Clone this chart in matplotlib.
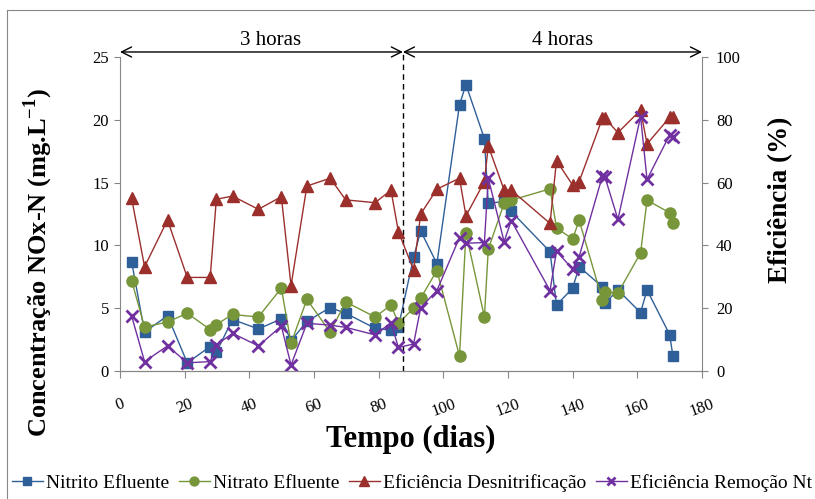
import matplotlib
matplotlib.use('Agg')
from matplotlib import pyplot as plt
from matplotlib.lines import Line2D

plt.rcParams['font.family'] = ['Liberation Serif', 'DejaVu Serif']
plt.rcParams['mathtext.fontset'] = 'custom'
plt.rcParams['mathtext.rm'] = 'Liberation Serif'
plt.rcParams['mathtext.bf'] = 'Liberation Serif:bold'

# dias de operação (3 horas até ~87 d, depois 4 horas)
dias = [3.6, 7.6, 14.7, 20.8, 27.9, 29.8, 34.8, 42.8, 49.9, 52.9, 57.8, 65, 69.8, 78.9, 83.8, 86.1,
        90.8, 93, 98, 105, 107, 112.7, 113.9, 118.8, 121, 133, 135, 140, 142, 149.2, 150, 154,
        161, 163, 170, 171]

# concentrações (mg/L)
nitrito = [8.7, 3.1, 4.4, 0.65, 1.95, 1.5, 4.1, 3.35, 4.15, 2.4, 3.95, 5.05, 4.6, 3.4, 3.25, 3.5,
           9.05, 11.15, 8.55, 21.2, 22.8, 18.5, 13.35, 13.5, 12.7, 9.5, 5.25, 6.6, 8.3, 6.7, 5.4, 6.45,
           4.65, 6.45, 2.9, 1.2]
nitrato = [7.2, 3.5, 3.9, 4.6, 3.3, 3.7, 4.5, 4.3, 6.6, 2.2, 5.7, 3.1, 5.5, 4.3, 5.25, 3.8,
           5.0, 5.8, 8.0, 1.2, 11.0, 4.3, 9.7, 13.35, 13.6, 14.5, 11.4, 10.5, 12.0, 5.65, 6.3, 6.2,
           9.4, 13.6, 12.6, 11.8]

# eficiências (%)
ef_desn = [55.0, 33.2, 48.1, 29.8, 29.8, 54.7, 55.7, 51.5, 55.5, 27.2, 58.9, 61.4, 54.5, 53.6, 57.6, 44.4,
           32.2, 50.0, 57.9, 61.4, 49.4, 60.3, 71.7, 57.6, 57.6, 47.0, 67.0, 59.2, 60.3, 80.5, 80.5, 75.9,
           83.1, 72.3, 80.8, 80.8]
ef_rem = [17.5, 3.0, 8.0, 2.6, 3.0, 8.3, 12.0, 8.0, 14.3, 1.9, 15.2, 14.6, 13.9, 11.5, 15.4, 7.5,
          8.6, 20.2, 25.6, 42.5, 40.7, 40.9, 61.4, 41.2, 47.9, 25.6, 38.2, 32.4, 36.4, 62.1, 61.7, 48.3,
          81.0, 61.0, 75.2, 74.4]

troca = 87.5  # mudança de TDH

cinza = '#878787'

fig = plt.figure(figsize=(8.15, 4.99), dpi=100)
# moldura da área do gráfico (só esquerda e topo aparecem)
fx, fy = 7 / 815, 1 - 10 / 499
fig.add_artist(Line2D([fx, fx], [0, fy], transform=fig.transFigure, color=cinza, lw=0.8))
fig.add_artist(Line2D([fx, 1], [fy, fy], transform=fig.transFigure, color=cinza, lw=0.8))

ax = fig.add_axes([120 / 815, 1 - 371 / 499, 582 / 815, 314 / 499])
ax2 = ax.twinx()

l1, = ax.plot(dias, nitrito, color='#2F5F98', lw=1, marker='s', ms=7, label='Nitrito Efluente')
l2, = ax.plot(dias, nitrato, color='#77963A', lw=1, marker='o', ms=8, label='Nitrato Efluente')
l3, = ax2.plot(dias, ef_desn, color='#9B2F2C', lw=1, marker='^', ms=8.5, label='Eficiência Desnitrificação')
l4, = ax2.plot(dias, ef_rem, color='#7030A0', lw=1, marker='x', ms=8, mew=2, label='Eficiência Remoção Nt')

ax.set_xlim(0, 180)
ax.set_ylim(0, 25)
ax2.set_ylim(0, 100)
ax.set_xticks(range(0, 181, 20))
ax.set_yticks(range(0, 26, 5))
ax2.set_yticks(range(0, 101, 20))

for a in (ax, ax2):
    a.spines['top'].set_visible(False)
    for s in ('left', 'right', 'bottom'):
        a.spines[s].set_color(cinza)
ax2.spines['left'].set_visible(False)
ax.spines['right'].set_visible(False)

ax.tick_params(axis='y', colors=cinza, labelcolor='black', labelsize=12, length=4, pad=4)
ax.tick_params(axis='x', colors=cinza, labelcolor='black', labelsize=12, length=5, pad=13,
               labelrotation=20)
ax2.tick_params(axis='y', colors=cinza, labelcolor='black', labelsize=12, length=4, pad=6)

ax.set_xlabel('Tempo (dias)', fontsize=22, fontweight='bold')
ax.xaxis.set_label_coords(0.5, -0.172)
ax.set_ylabel('Concentração NOx-N (mg.L$^{\\mathbf{-1}}$)', fontsize=19, fontweight='bold')
ax.yaxis.set_label_coords(-0.112, 0.345)
ax2.set_ylabel('Eficiência (%)', fontsize=19.5, fontweight='bold')
ax2.yaxis.set_label_coords(1.113, 0.545)

# linha de separação e setas das fases
ax.plot([troca, troca], [0, 25.4], color='black', lw=1, ls=(0, (4, 3)), clip_on=False)
y_seta = 25.4
for x0, x1 in ((0, troca), (troca, 180)):
    ax.annotate('', xy=(x0, y_seta), xytext=(x1, y_seta), annotation_clip=False,
                arrowprops=dict(arrowstyle='<->', color='black', lw=1, shrinkA=0, shrinkB=0,
                                mutation_scale=18))
ax.text(46.5, 26.35, '3 horas', ha='center', va='center', fontsize=15)
ax.text(137, 26.35, '4 horas', ha='center', va='center', fontsize=15)

fig.legend(handles=[l1, l2, l3, l4], loc='center left', bbox_to_anchor=(0.0, 1 - 483 / 499), ncol=4,
           frameon=False, fontsize=14, handlelength=1.6, handletextpad=0.15, columnspacing=0.5,
           markerscale=0.8, borderaxespad=0.2)

fig.savefig('out.png', dpi=100)
